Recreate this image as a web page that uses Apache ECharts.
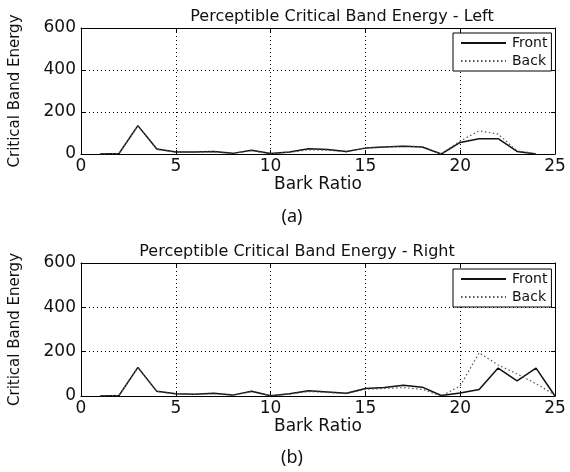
<!DOCTYPE html>
<html>
<head>
<meta charset="utf-8">
<script src="https://cdn.jsdelivr.net/npm/echarts@6/dist/echarts.min.js"></script>
<style>
  html, body { margin: 0; padding: 0; background: #fff; }
  #chart { width: 570px; height: 472px; }
</style>
</head>
<body>
<div id="chart"></div>
<script>
// Bark band index (1..25)
const barkBands = [1,2,3,4,5,6,7,8,9,10,11,12,13,14,15,16,17,18,19,20,21,22,23,24,25];

// Left channel, bands 1..24
const leftFront = [0, 2, 135, 24, 10, 10, 12, 3, 18, 2, 10, 25, 22, 12, 28, 33, 37, 33, 0, 55, 73, 73, 12, 0];
const leftBack  = [0, 2, 133, 22, 9, 9, 10, 2, 16, 1, 8, 20, 18, 10, 30, 34, 38, 35, 0, 62, 110, 95, 15, 2];

// Right channel, bands 1..25
const rightFront = [0, 2, 129, 21, 10, 8, 12, 4, 21, 1, 10, 24, 18, 12, 34, 38, 49, 40, 2, 14, 29, 126, 68, 126, 0];
const rightBack  = [0, 2, 127, 20, 9, 7, 10, 3, 19, 1, 8, 20, 16, 10, 30, 34, 38, 30, 0, 45, 195, 140, 100, 55, 5];

const xTicks = [0, 5, 10, 15, 20, 25];
const yTicks = [0, 200, 400, 600];

const titles = ['Perceptible Critical Band Energy - Left', 'Perceptible Critical Band Energy - Right'];
const panelTags = ['(a)', '(b)'];

const FONT = 'DejaVu Sans';

function pairs(vals) {
  return vals.map((v, i) => [barkBands[i], v]);
}

function boxLine() {
  return { show: true, onZero: false, lineStyle: { color: '#000', width: 1 } };
}
function innerTick() {
  return { show: true, inside: true, length: 4, lineStyle: { color: '#000' } };
}

function xAxisFor(gridIndex) {
  return {
    type: 'value', gridIndex, min: xTicks[0], max: xTicks[xTicks.length - 1], interval: 5,
    name: 'Bark Ratio', nameLocation: 'middle', nameGap: 22,
    nameTextStyle: { fontFamily: FONT, fontSize: 17, color: '#111' },
    axisLine: boxLine(), axisTick: innerTick(),
    axisLabel: { fontFamily: FONT, fontSize: 17, color: '#111', margin: 4 },
    splitLine: { show: true, lineStyle: { color: '#000', type: [1, 3], width: 1 } }
  };
}
function xAxisTop(gridIndex) {
  return {
    type: 'value', gridIndex, position: 'top', min: 0, max: 25, interval: 5,
    axisLine: boxLine(), axisTick: innerTick(),
    axisLabel: { show: false }, splitLine: { show: false }
  };
}
function yAxisFor(gridIndex) {
  return {
    type: 'value', gridIndex, min: yTicks[0], max: yTicks[yTicks.length - 1], interval: 200,
    name: 'Critical Band Energy', nameLocation: 'middle', nameGap: 58,
    nameTextStyle: { fontFamily: FONT, fontSize: 15, color: '#111' },
    axisLine: boxLine(), axisTick: innerTick(),
    axisLabel: { fontFamily: FONT, fontSize: 17, color: '#111', margin: 5 },
    splitLine: { show: true, lineStyle: { color: '#000', type: [1, 3], width: 1 } }
  };
}
function yAxisRight(gridIndex) {
  return {
    type: 'value', gridIndex, position: 'right', min: 0, max: 600, interval: 200,
    axisLine: boxLine(), axisTick: innerTick(),
    axisLabel: { show: false }, splitLine: { show: false }
  };
}

function lineSeries(name, vals, xi, yi, dotted) {
  const color = dotted ? '#555' : '#111';
  return {
    name, type: 'line', xAxisIndex: xi, yAxisIndex: yi, data: pairs(vals),
    symbol: 'none', silent: true, animation: false,
    itemStyle: { color },
    lineStyle: dotted
      ? { color, width: 1.2, type: [1.5, 2.5] }
      : { color, width: 1.5, type: 'solid' }
  };
}

function legendFor(top) {
  return {
    orient: 'vertical', left: 453, top, width: 97,
    data: ['Front', 'Back'],
    itemWidth: 45, itemHeight: 14, itemGap: 4,
    padding: [3, 4, 3, 7],
    borderColor: '#000', borderWidth: 1, backgroundColor: '#fff',
    itemStyle: { opacity: 0 },
    lineStyle: { inactiveWidth: 1 },
    textStyle: { fontFamily: FONT, fontSize: 14, color: '#111', padding: [0, 0, 0, 1] },
    selectedMode: false
  };
}

const chart = echarts.init(document.getElementById('chart'), null, { renderer: 'canvas' });
chart.setOption({
  backgroundColor: '#fff',
  animation: false,
  title: [
    { text: titles[0], left: 337, top: 4, textAlign: 'center', textStyle: { fontFamily: FONT, fontSize: 16, fontWeight: 'normal', color: '#111' } },
    { text: titles[1], left: 292, top: 239, textAlign: 'center', textStyle: { fontFamily: FONT, fontSize: 16, fontWeight: 'normal', color: '#111' } },
    { text: panelTags[0], left: 287, top: 203, textAlign: 'center', textStyle: { fontFamily: 'Noto Sans', fontSize: 18, fontWeight: 'normal', color: '#111' } },
    { text: panelTags[1], left: 287, top: 444, textAlign: 'center', textStyle: { fontFamily: 'Noto Sans', fontSize: 18, fontWeight: 'normal', color: '#111' } }
  ],
  legend: [legendFor(33), legendFor(269)],
  grid: [
    { left: 81, right: 15, top: 28, height: 126 },
    { left: 81, right: 15, top: 263, height: 133 }
  ],
  xAxis: [xAxisFor(0), xAxisFor(1), xAxisTop(0), xAxisTop(1)],
  yAxis: [yAxisFor(0), yAxisFor(1), yAxisRight(0), yAxisRight(1)],
  series: [
    lineSeries('Front', leftFront, 0, 0, false),
    lineSeries('Back', leftBack, 0, 0, true),
    lineSeries('Front', rightFront, 1, 1, false),
    lineSeries('Back', rightBack, 1, 1, true)
  ]
});
</script>
</body>
</html>
